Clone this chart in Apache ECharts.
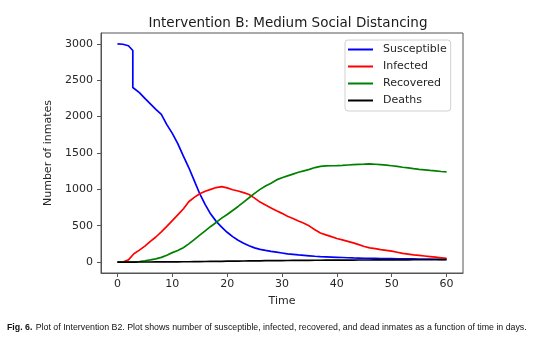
<!DOCTYPE html>
<html>
<head>
<meta charset="utf-8">
<script src="https://cdn.jsdelivr.net/npm/echarts@6/dist/echarts.min.js"></script>
<style>
html,body{margin:0;padding:0;background:#fff;}
#chart{width:541px;height:342px;}
</style>
</head>
<body>
<div id="chart"></div>
<script>
// ---- data ----
var days = [];
for (var d = 0; d <= 60; d++) days.push(d);

var susceptibleDays = [0,1,2,2.8,2.8,3,4,5,6,7,8,9,10,11,12,13,14,15,16,17,18,19,20,21,22,23,24,25,26,27,28,29,30,31,32,33,34,35,36,37,38,39,40,41,42,43,44,45,46,47,48,49,50,51,52,53,54,55,56,57,58,59,60];
var susceptible = [3000,2995,2975,2910,2400,2390,2330,2250,2175,2100,2030,1890,1770,1630,1460,1300,1120,940,790,660,560,480,410,350,300,260,225,195,175,160,148,138,125,112,105,98,92,86,80,75,72,69,66,63,60,57,55,53,51,50,49,48,47,46,45,44,43,42,41,40,39,38,37];

var infected = [0,0,30,115,165,220,285,345,415,490,570,650,730,830,890,940,975,1000,1025,1037,1020,995,978,955,930,880,825,785,745,705,670,630,600,565,535,495,445,400,375,350,325,305,285,265,240,215,195,185,172,162,150,135,120,110,100,92,84,76,68,60,52];

var recovered = [0,0,0,3,8,18,30,45,65,95,130,160,198,250,310,370,430,490,545,605,655,710,765,825,885,945,1000,1045,1085,1130,1160,1185,1210,1235,1255,1275,1300,1315,1322,1325,1327,1330,1335,1340,1343,1346,1350,1345,1340,1333,1325,1315,1304,1295,1285,1276,1268,1260,1253,1246,1240];

var deaths = [0,0,0,0,1,1,1,2,2,3,3,4,5,5,6,7,8,9,10,11,12,13,14,15,16,17,18,19,20,20,21,22,23,23,24,24,25,25,26,26,27,27,28,28,29,29,29,30,30,30,31,31,31,31,32,32,32,32,33,33,33];

var xTicks = [0,10,20,30,40,50,60];
var yTicks = [0,500,1000,1500,2000,2500,3000];
var seriesNames = ['Susceptible','Infected','Recovered','Deaths'];
var seriesColors = ['#0000ff','#ff0000','#008000','#000000'];

function pairs(xs, ys){ return xs.map(function(x,i){ return [x, ys[i]]; }); }
var seriesData = [pairs(susceptibleDays, susceptible), pairs(days, infected), pairs(days, recovered), pairs(days, deaths)];

var FONT = 'DejaVu Sans';
var chart = echarts.init(document.getElementById('chart'), null, {renderer:'canvas'});
chart.setOption({
  animation: false,
  backgroundColor: '#fff',
  title: {
    text: 'Intervention B: Medium Social Distancing',
    left: 283, top: 11, textAlign: 'center',
    textStyle: {fontFamily: FONT, fontSize: 13.5, fontWeight: 'normal', color: '#1a1a1a'}
  },
  legend: {
    orient: 'vertical', left: 345, top: 40,
    data: seriesNames,
    icon: 'rect', itemWidth: 25, itemHeight: 2, itemGap: 4,
    borderColor: '#d0d0d0', borderWidth: 1, borderRadius: 3,
    padding: [3, 4, 4, 3],
    backgroundColor: '#fff',
    textStyle: {fontFamily: FONT, fontSize: 11, color: '#262626', lineHeight: 13, padding: [0,0,0,5]}
  },
  grid: {left: 101, right: 78, top: 33, bottom: 69, show: true, borderColor: '#555', borderWidth: 1, containLabel: false},
  xAxis: {
    type: 'value', min: -3, max: 63,
    name: 'Time', nameLocation: 'middle', nameGap: 23,
    nameTextStyle: {fontFamily: FONT, fontSize: 11, color: '#262626'},
    axisLine: {show: true, onZero: false, lineStyle: {color: '#555'}},
    axisTick: {show: true, length: 4, lineStyle: {color: '#555'}, customValues: xTicks},
    axisLabel: {fontFamily: FONT, fontSize: 11, color: '#262626', margin: 6, customValues: xTicks,
      formatter: function(v){ return String(v); }},
    splitLine: {show: false}
  },
  yAxis: {
    type: 'value', min: -150, max: 3150,
    name: 'Number of inmates', nameLocation: 'middle', nameGap: 44, nameRotate: 90,
    nameTextStyle: {fontFamily: FONT, fontSize: 11, color: '#262626'},
    axisLine: {show: true, onZero: false, lineStyle: {color: '#555'}},
    axisTick: {show: true, length: 4, lineStyle: {color: '#555'}, customValues: yTicks},
    axisLabel: {fontFamily: FONT, fontSize: 11, color: '#262626', margin: 8, customValues: yTicks,
      formatter: function(v){ return String(v); }},
    splitLine: {show: false}
  },
  series: seriesNames.map(function(n, i){
    return {
      name: n, type: 'line', data: seriesData[i], showSymbol: false, symbol: 'none',
      lineStyle: {color: seriesColors[i], width: 1.7}, itemStyle: {color: seriesColors[i]},
      z: 2 + i
    };
  }),
  graphic: [{
    type: 'text', left: 7, top: 322,
    style: {
      rich: {
        b: {fontFamily: 'Liberation Sans', fontWeight: 'bold', fontSize: 8.8, fill: '#111'},
        r: {fontFamily: 'Liberation Sans', fontSize: 8.8, fill: '#111'}
      },
      text: '{b|Fig. 6.} {r|Plot of Intervention B2. Plot shows number of susceptible, infected, recovered, and dead inmates as a function of time in days.}'
    }
  }]
});
</script>
</body>
</html>
